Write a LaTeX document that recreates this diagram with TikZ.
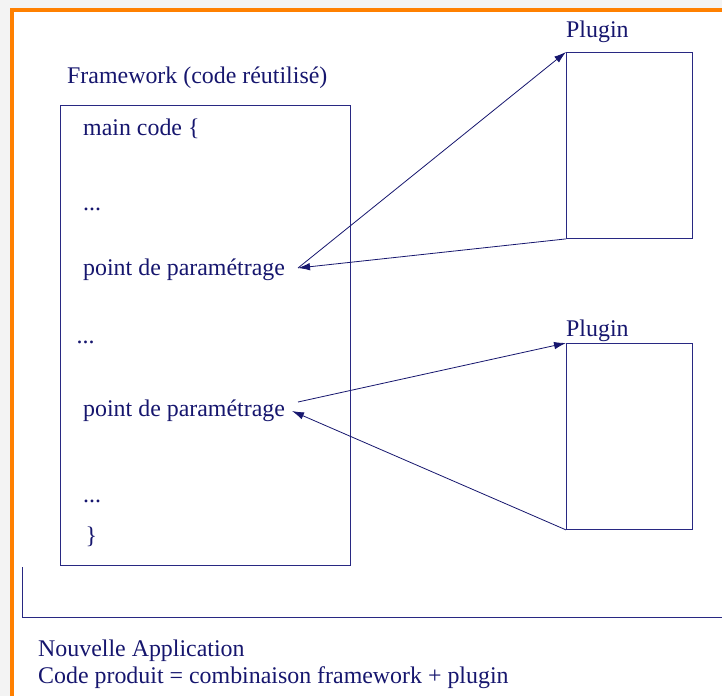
\documentclass[tikz,border=0pt]{standalone}
\usepackage{fontspec}
\setmainfont{Liberation Serif}
\usetikzlibrary{arrows.meta}
\definecolor{txt}{RGB}{22,22,110}
\definecolor{ln}{RGB}{40,40,130}
\definecolor{orng}{RGB}{255,128,0}
\definecolor{bg}{RGB}{243,243,243}
\tikzset{
  lbl/.style={anchor=base west, inner sep=0pt, text=txt, font=\fontsize{23.9}{28}\selectfont},
  boxn/.style={draw=ln, line width=0.9pt, anchor=north west, inner sep=0pt},
  conn/.style={draw=txt, line width=0.8pt, -{Latex[length=12pt,width=7.5pt]}},
}
\begin{document}
\begin{tikzpicture}[x=1pt,y=-1pt]
\useasboundingbox (0,0) rectangle (722,696);
\fill[bg] (0,0) rectangle (722,696);
\fill[white] (12,10) rectangle (722,696);
\draw[orng, line width=4pt] (12,696) -- (12,10) -- (722,10);

% framework box
\node[boxn, minimum width=290pt, minimum height=460pt] (fw) at (60,105) {};
\node[lbl] (fwl) at (67,83) {Framework (code réutilisé)};
\node[lbl] (t1) at (83,135) {main code \{};
\node[lbl] (t2) at (83,210) {...};
\node[lbl] (pp1) at (83,275) {point de paramétrage};
\node[lbl] (t3) at (76.5,343) {...};
\node[lbl] (pp2) at (83,416) {point de paramétrage};
\node[lbl] (t4) at (83,502) {...};
\node[lbl] (t5) at (85.5,543) {\}};

% plugins
\node[boxn, minimum width=126pt, minimum height=186pt] (pl1) at (566,52) {};
\node[lbl] (pl1l) at (566,37) {Plugin};
\node[boxn, minimum width=126pt, minimum height=186pt] (pl2) at (566,343) {};
\node[lbl] (pl2l) at (566,336) {Plugin};

% connector ends beside the texts
\coordinate (a1) at (298,268);
\coordinate (a2) at (298,402);
\coordinate (a3) at (292,411);

\draw[conn] (a1) -- (pl1.north west);
\draw[conn] (pl1.south west) -- (a1);
\draw[conn] (a2) -- (pl2.north west);
\draw[conn] (pl2.south west) -- (a3);

% application bracket
\coordinate (b0) at (22.5,567);
\coordinate (b1) at (22.5,617.5);
\coordinate (b2) at (722,617.5);
\draw[ln, line width=0.9pt] (b0) -- (b1) -- (b2);

\node[lbl] (na) at (38,656) {Nouvelle Application};
\node[lbl] (cp) at (38,683) {Code produit = combinaison framework + plugin};
\end{tikzpicture}
\end{document}
